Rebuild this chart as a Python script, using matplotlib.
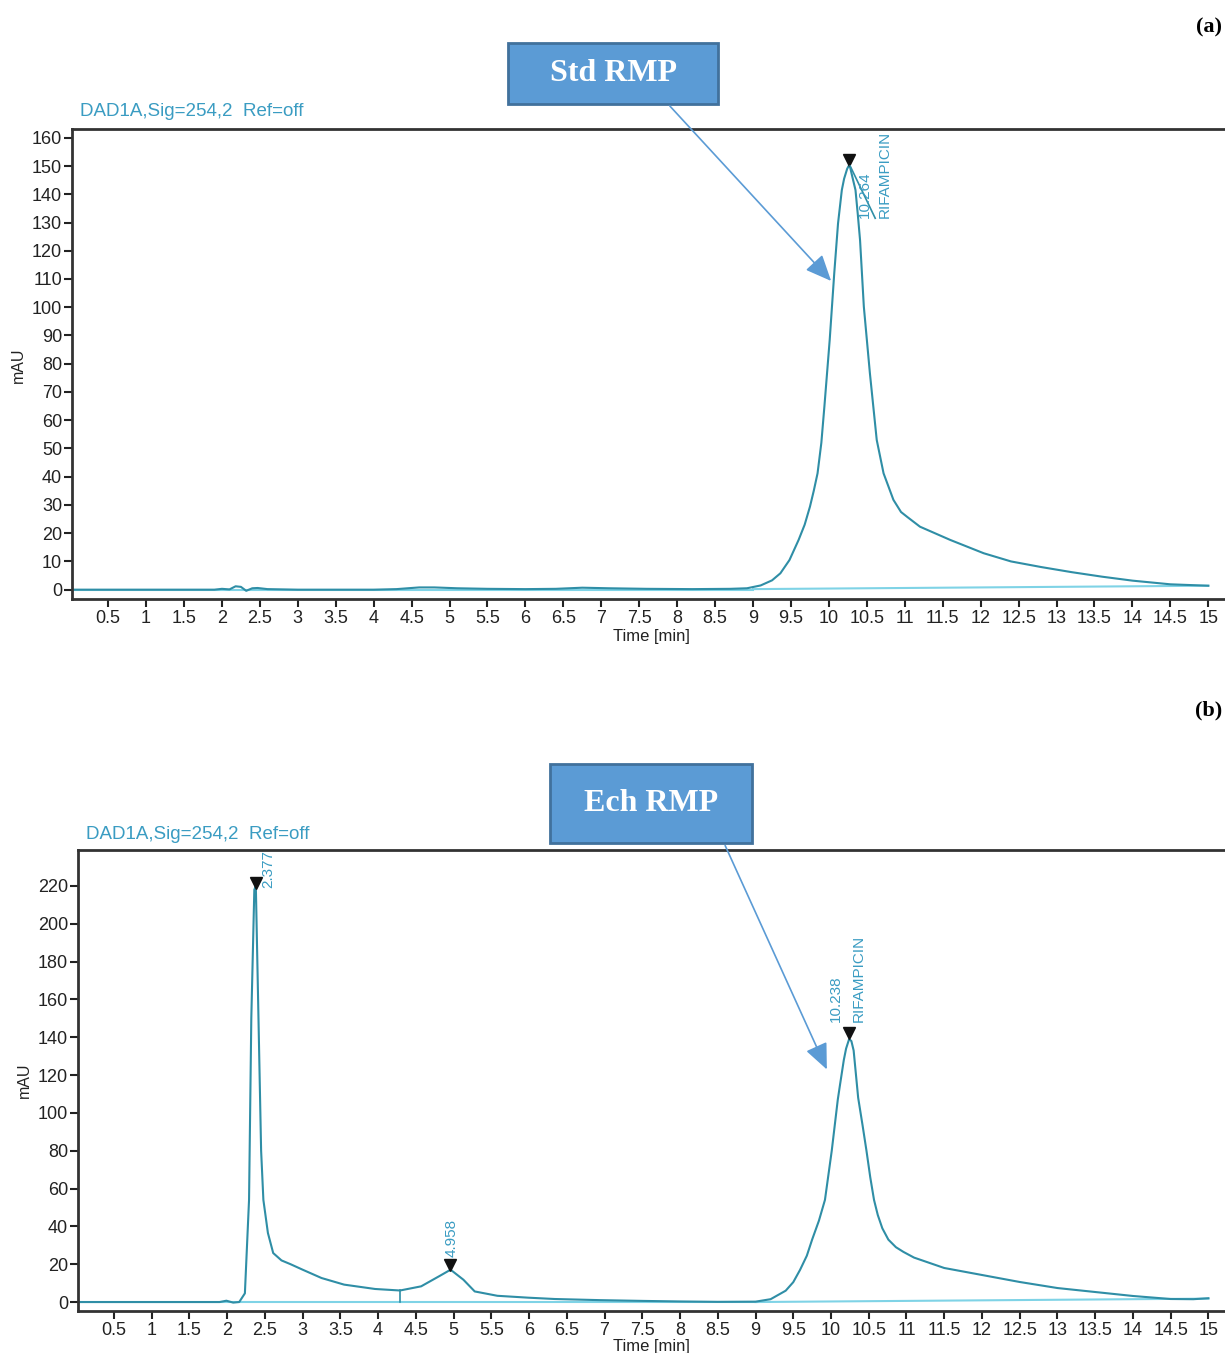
import matplotlib
matplotlib.use('Agg')
from matplotlib import pyplot as plt
from matplotlib.patches import Rectangle, FancyArrowPatch

# chromatogram (a) : standard rifampicin
t_std = [0, 1.9, 2.0, 2.1, 2.18, 2.25, 2.32, 2.4, 2.47, 2.6, 3.0, 3.5, 4.0, 4.3, 4.6, 4.8, 5.1, 5.5,
         6.0, 6.4, 6.75, 7.1, 7.6, 8.2, 8.7, 8.92, 9.1, 9.25, 9.36, 9.48, 9.6, 9.68, 9.75, 9.8, 9.85,
         9.9, 9.94, 10.01, 10.07, 10.12, 10.17, 10.2, 10.24, 10.26, 10.28, 10.31, 10.35, 10.38,
         10.41, 10.46, 10.54, 10.63, 10.72, 10.85, 10.95, 11.03, 11.2, 11.6, 12.04, 12.4, 12.8,
         13.2, 13.6, 14.0, 14.5, 15.0]
mau_std = [0, 0, 0.3, 0.1, 1.2, 1.0, -0.4, 0.5, 0.6, 0.2, 0, 0, 0, 0.2, 0.8, 0.8, 0.5, 0.3,
           0.2, 0.3, 0.7, 0.5, 0.3, 0.2, 0.3, 0.5, 1.5, 3.3, 5.8, 10.5, 17.6, 23, 29.4, 35, 41.2,
           52, 64.8, 88.4, 112, 129.7, 141.5, 145.5, 149, 150, 149.5, 146, 141.5, 133,
           123.8, 100.2, 76.6, 53, 41.2, 31.8, 27.5, 25.8, 22.3, 17.6, 12.9, 10.0, 8.0,
           6.2, 4.6, 3.2, 1.9, 1.4]

# chromatogram (b) : sample
t_ech = [0, 1.9, 1.99, 2.08, 2.16, 2.235, 2.29, 2.32, 2.36, 2.38, 2.41, 2.45, 2.48, 2.54, 2.61,
         2.72, 2.84, 3.0, 3.25, 3.55, 3.96, 4.29, 4.57, 4.82, 4.96, 5.13, 5.28, 5.58, 5.99, 6.34,
         6.94, 7.5, 8.0, 8.5, 9.0, 9.2, 9.4, 9.5, 9.59, 9.68, 9.75, 9.84, 9.92, 10.01, 10.09,
         10.12, 10.17, 10.2, 10.24, 10.27, 10.30, 10.36, 10.42, 10.47, 10.52, 10.57, 10.62,
         10.68, 10.76, 10.86, 10.96, 11.1, 11.5, 12.0, 12.5, 13.0, 13.5, 14.0, 14.5, 14.8, 15.0]
mau_ech = [0, 0, 0.7, -0.3, 0, 4.6, 54, 150, 218, 220, 160, 80, 54, 36.5, 25.9,
           22, 20, 17.1, 12.7, 9.2, 6.9, 6.1, 8.3, 13.9, 17.1, 11.8, 5.6, 3.3, 2.3, 1.6,
           1.0, 0.6, 0.3, 0.1, 0.2, 1.5, 6, 10.5, 17, 24.5, 33, 43, 54, 80, 107,
           115, 128, 134, 139, 138, 133, 108, 93, 80, 66, 54, 46,
           39, 33, 29, 26.5, 23.5, 18, 14.3, 10.6, 7.4, 5.3, 3.2, 1.6, 1.5, 2.0]

# peaks : (temps, hauteur du marqueur)
peak_std = [(10.264, 152)]
peak_ech = [(2.377, 221.5), (4.958, 19.5), (10.238, 142)]

x_ticks = [i * 0.5 for i in range(1, 31)]
x_labels = ['%g' % v for v in x_ticks]
y_ticks_std = list(range(0, 161, 10))
y_ticks_ech = list(range(0, 221, 20))

sig_color = '#2f8ea6'
base_color = '#7fd3e6'
lab_color = '#3a9cc2'
box_color = '#5b9bd5'

plt.rcParams['font.family'] = ['Liberation Sans', 'DejaVu Sans']

fig = plt.figure(figsize=(12.25, 13.53), dpi=100)
W, H = 1225.0, 1353.0


def style_axes(ax, yticks, ylim):
    ax.set_xlim(0.02, 15.22)
    ax.set_ylim(*ylim)
    ax.set_xticks(x_ticks)
    ax.set_xticklabels(x_labels, fontsize=13, color='#222222')
    ax.set_yticks(yticks)
    ax.set_yticklabels([str(v) for v in yticks], fontsize=13, color='#222222')
    ax.tick_params(axis='both', direction='out', length=6, width=1.5, color='#222222')
    ax.tick_params(axis='x', pad=2)
    ax.tick_params(axis='y', pad=1)
    ax.spines['right'].set_visible(False)
    for s in ['left', 'bottom', 'top']:
        ax.spines[s].set_linewidth(2)
        ax.spines[s].set_color('#333333')


# ---- (a) ----
ax1 = fig.add_axes([71.7 / W, 1 - 599 / H, 1 - 71.7 / W, (599 - 129.3) / H])
style_axes(ax1, y_ticks_std, (-3.3, 163.0))
ax1.plot([0, 9.0], [0, 0], color=base_color, lw=1.5)
ax1.plot([9.0, 15.0], [0.2, 1.4], color=base_color, lw=1.5)
ax1.plot(t_std, mau_std, color=sig_color, lw=1.5)
for t, h in peak_std:
    ax1.plot(t, h, marker='v', color='#111111', markersize=9, ls='none')
ax1.plot([10.28, 10.61], [150, 131.5], color=sig_color, lw=1.2)
ax1.text(10.48, 131.6, '10.264', rotation=90, ha='center', va='bottom', fontsize=11, color=lab_color)
ax1.text(10.74, 131.6, 'RIFAMPICIN', rotation=90, ha='center', va='bottom', fontsize=11, color=lab_color)

fig.text(80 / W, 1 - 112 / H, 'DAD1A,Sig=254,2  Ref=off', ha='left', va='center', fontsize=13.5, color=lab_color)
fig.text(18 / W, 1 - 365 / H, 'mAU', rotation=90, ha='center', va='center', fontsize=11.5, color='#222222')
fig.text(651 / W, 1 - 637 / H, 'Time [min]', ha='center', va='center', fontsize=12, color='#222222')

# ---- (b) ----
ax2 = fig.add_axes([77.7 / W, 1 - 1311.3 / H, 1 - 77.7 / W, (1311.3 - 850) / H])
style_axes(ax2, y_ticks_ech, (-4.9, 239))
ax2.plot([0, 4.29], [0, 0], color=base_color, lw=1.5)
ax2.plot([4.29, 9.0], [0, 0], color=base_color, lw=1.5)
ax2.plot([9.0, 15.0], [0, 1.8], color=base_color, lw=1.5)
ax2.plot([4.29, 4.29], [0, 6.1], color=sig_color, lw=1.2)
ax2.plot(t_ech, mau_ech, color=sig_color, lw=1.5)
for t, h in peak_ech:
    ax2.plot(t, h, marker='v', color='#111111', markersize=9, ls='none')
ax2.text(2.54, 219, '2.377', rotation=90, ha='center', va='bottom', fontsize=11, color=lab_color)
ax2.text(4.97, 24, '4.958', rotation=90, ha='center', va='bottom', fontsize=11, color=lab_color)
ax2.text(10.06, 148, '10.238', rotation=90, ha='center', va='bottom', fontsize=11, color=lab_color)
ax2.text(10.37, 148, 'RIFAMPICIN', rotation=90, ha='center', va='bottom', fontsize=11, color=lab_color)

fig.text(86 / W, 1 - 834 / H, 'DAD1A,Sig=254,2  Ref=off', ha='left', va='center', fontsize=13.5, color=lab_color)
fig.text(24 / W, 1 - 1080 / H, 'mAU', rotation=90, ha='center', va='center', fontsize=11.5, color='#222222')
fig.text(651 / W, 1 - 1347 / H, 'Time [min]', ha='center', va='center', fontsize=12, color='#222222')

# ---- boites + fleches ----
def box(x0, y0, x1, y1, txt):
    fig.add_artist(Rectangle((x0 / W, 1 - y1 / H), (x1 - x0) / W, (y1 - y0) / H,
                             transform=fig.transFigure, facecolor=box_color,
                             edgecolor='#41719c', lw=2))
    fig.text((x0 + x1) / 2 / W, 1 - (y0 + y1) / 2 / H, txt, ha='center', va='center',
             fontsize=23, fontweight='bold', color='white', family='Liberation Serif')


def arrow(xa, ya, xb, yb):
    fig.add_artist(FancyArrowPatch((xa / W, 1 - ya / H), (xb / W, 1 - yb / H),
                                   transform=fig.transFigure, color=box_color, lw=1.2,
                                   arrowstyle='-|>,head_length=0.8,head_width=0.35',
                                   mutation_scale=20))


box(508, 43, 718, 104, 'Std RMP')
arrow(668, 104, 833, 283)
box(550, 764, 752, 843, 'Ech RMP')
arrow(724, 843, 828, 1072)

fig.text(1222 / W, 1 - 27 / H, '(a)', ha='right', va='center', fontsize=16, fontweight='bold',
         family='Liberation Serif')
fig.text(1222 / W, 1 - 710 / H, '(b)', ha='right', va='center', fontsize=16, fontweight='bold',
         family='Liberation Serif')

plt.savefig('out.png', dpi=100)
plt.close('all')
